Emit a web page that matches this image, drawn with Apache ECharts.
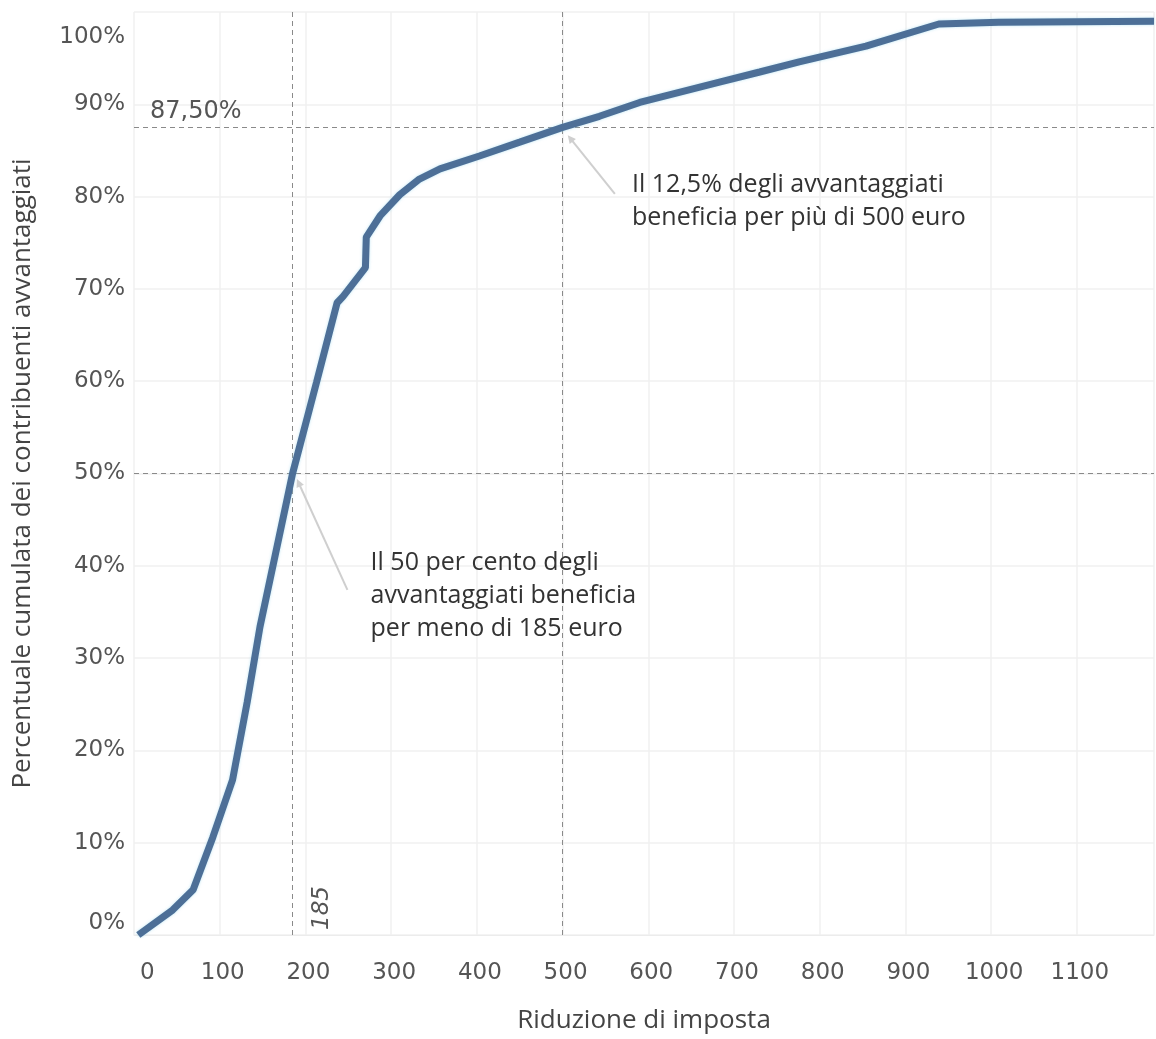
<!DOCTYPE html>
<html>
<head>
<meta charset="utf-8">
<script src="https://cdn.jsdelivr.net/npm/echarts@6/dist/echarts.min.js"></script>
<style>
  html, body { margin: 0; padding: 0; background: #fff; }
  #main { width: 1156px; height: 1039px; }
</style>
</head>
<body>
<div id="main"></div>
<script>
// riduzione di imposta (euro) -> percentuale cumulata
var riduzione = [5, 45, 69, 92, 115, 132, 147, 185, 213, 237, 244, 270, 271, 287, 310, 333, 357, 403, 450, 500, 543, 590, 636, 683, 730, 776, 854, 939, 1009, 1190];
var cumulata  = [0, 2.7, 4.9, 10.6, 16.8, 25.2, 33.4, 50, 59.9, 68.5, 69.2, 72.3, 75.6, 77.9, 80.2, 81.9, 83.0, 84.4, 85.9, 87.5, 88.7, 90.2, 91.3, 92.4, 93.5, 94.6, 96.3, 98.7, 98.9, 99.0];

// linee di riferimento
var soglieX = [185, 500];
var soglieY = [50, 87.5];

// note: testo, ancoraggio del testo e freccia (coordinate dati)
var note = [
  { testo: 'Il 12,5% degli avvantaggiati\nbeneficia per più di 500 euro', pos: [581, 83.1], da: [561, 80.3], a: [509, 86.3] },
  { testo: 'Il 50 per cento degli\navvantaggiati beneficia\nper meno di 185 euro', pos: [276, 42.1], da: [249, 37.4], a: [192, 49.0] }
];
// etichetta "185" in fondo alla linea verticale
var etichetta185 = { testo: '185', pos: [185, 0] };

var punti = riduzione.map(function (x, i) { return [x, cumulata[i]]; });

var myChart = echarts.init(document.getElementById('main'));

var grigio = '#555';
var tratteggio = { type: [5, 4], color: '#8a8a8a', width: 1 };

var markData = [];
soglieX.forEach(function (v) {
  markData.push({ xAxis: v, label: { show: false } });
});
soglieY.forEach(function (v) {
  markData.push({
    yAxis: v,
    label: v === 87.5 ? {
      show: true, formatter: '87,50%', position: 'insideStartTop', distance: 4,
      padding: [0, 0, 0, 12],
      fontSize: 24, color: grigio, fontFamily: 'DejaVu Sans'
    } : { show: false }
  });
});
note.forEach(function (n) {
  markData.push([
    { coord: n.da, symbol: 'none', lineStyle: { type: 'solid', color: '#cfcfcf', width: 2 }, label: { show: false } },
    { coord: n.a, symbol: 'triangle', symbolSize: 8, itemStyle: { color: '#cfcfcf' } }
  ]);
});

var option = {
  animation: false,
  backgroundColor: '#fff',
  grid: { left: 134, right: 2, top: 12, bottom: 104 },
  xAxis: {
    type: 'value',
    min: 0, max: 1190, interval: 100,
    name: 'Riduzione di imposta',
    nameLocation: 'middle', nameGap: 73,
    nameTextStyle: { fontSize: 26, color: '#444', fontFamily: 'Open Sans' },
    axisLine: { show: true, lineStyle: { color: '#ececec' } },
    axisTick: { show: false },
    axisLabel: {
      margin: 27, fontSize: 23, color: grigio, fontFamily: 'DejaVu Sans',
      padding: [0, 0, 0, 6],
      alignMinLabel: 'left',
      showMaxLabel: false,
      formatter: function (v) { return v % 100 === 0 ? String(v) : ''; }
    },
    splitLine: { show: true, lineStyle: { color: '#f0f0f0', width: 1.5 } }
  },
  yAxis: {
    type: 'value',
    min: 0, max: 100, interval: 10,
    name: 'Percentuale cumulata dei contribuenti avvantaggiati',
    nameLocation: 'middle', nameGap: 98,
    nameTextStyle: { fontSize: 26, color: '#444', fontFamily: 'Open Sans' },
    axisLine: { show: false },
    axisTick: { show: false },
    axisLabel: {
      margin: 9, fontSize: 23, color: grigio, fontFamily: 'DejaVu Sans',
      padding: [14, 0, 0, 0],
      verticalAlignMaxLabel: 'top', verticalAlignMinLabel: 'bottom',
      formatter: '{value}%'
    },
    splitLine: { show: true, lineStyle: { color: '#f0f0f0', width: 1.5 } }
  },
  series: [{
    type: 'line',
    data: punti,
    symbol: 'none',
    lineStyle: { color: '#4d6f97', width: 7, shadowColor: 'rgba(140,210,235,0.6)', shadowBlur: 3 },
    z: 3,
    markLine: {
      silent: true,
      symbol: 'none',
      lineStyle: tratteggio,
      data: markData,
      z: 2
    }
  }]
};

myChart.setOption(option);

// testi posizionati dalle coordinate dei dati
var grafici = note.map(function (n) {
  var p = myChart.convertToPixel({ gridIndex: 0 }, n.pos);
  return {
    type: 'text', x: p[0], y: p[1], z: 10,
    style: {
      text: n.testo, fill: '#333', font: '25px "Open Sans"', lineHeight: 33,
      textAlign: 'left', textVerticalAlign: 'top'
    }
  };
});
var p185 = myChart.convertToPixel({ gridIndex: 0 }, etichetta185.pos);
grafici.push({
  type: 'text', x: p185[0] + 29, y: p185[1] - 5, rotation: Math.PI / 2, z: 10,
  style: {
    text: etichetta185.testo, fill: grigio, font: 'italic 23px "DejaVu Sans"',
    textAlign: 'left', textVerticalAlign: 'middle'
  }
});
myChart.setOption({ graphic: grafici });
</script>
</body>
</html>
